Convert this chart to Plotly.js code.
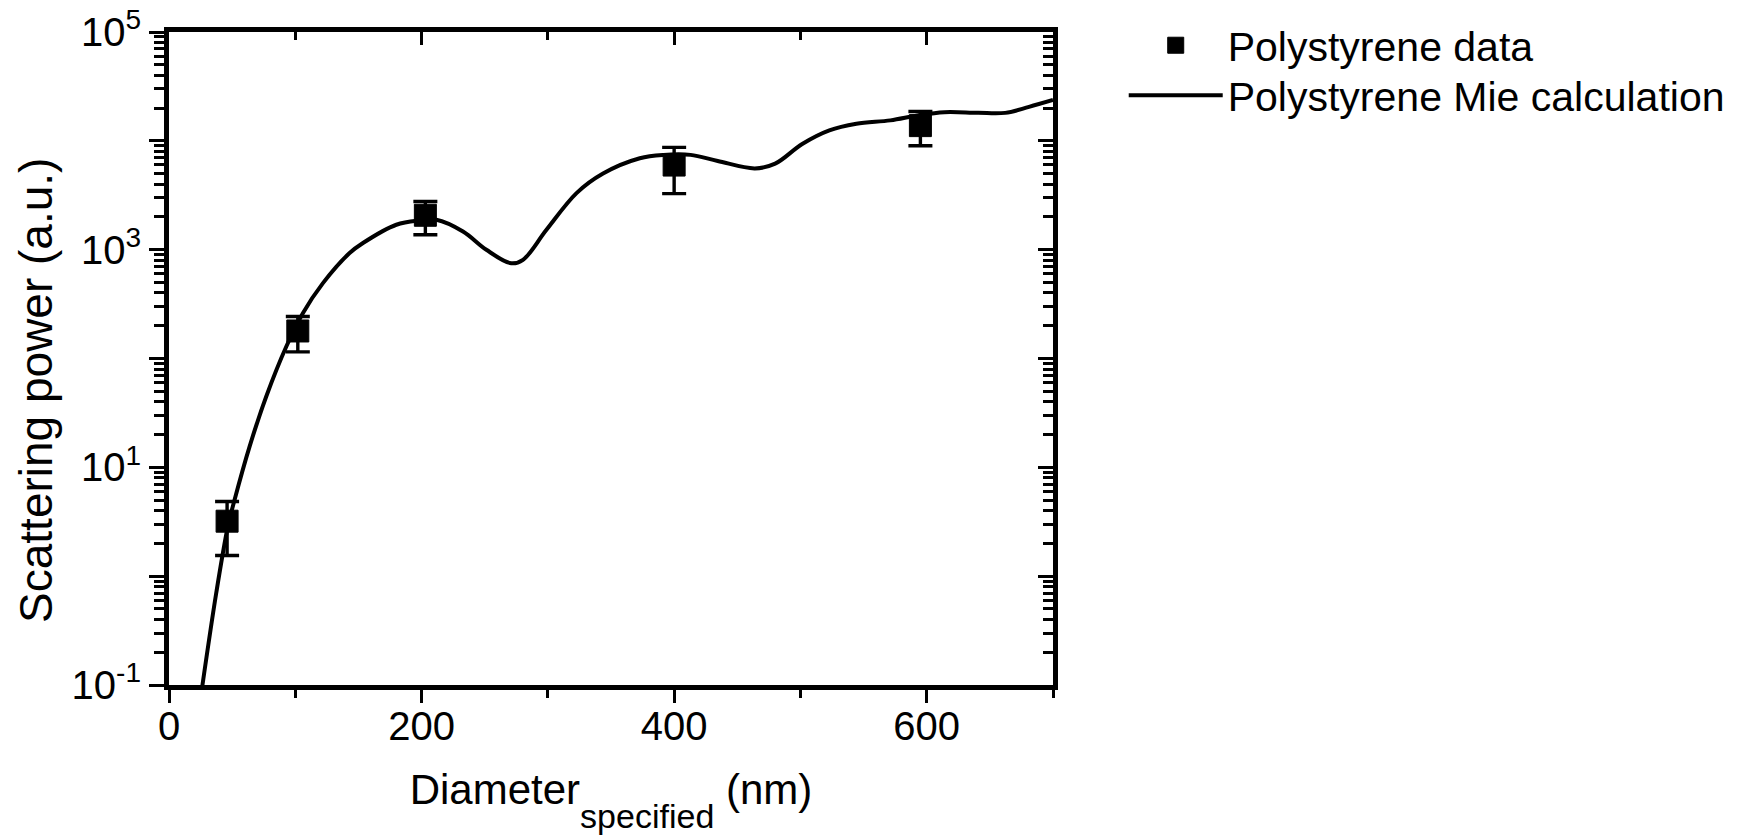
<!DOCTYPE html>
<html><head><meta charset="utf-8">
<script src="https://cdn.plot.ly/plotly-3.0.1.min.js"></script>
<style>html,body{margin:0;padding:0;background:#fff}#chart{width:1749px;height:835px}</style>
</head><body><div id="chart"></div>
<script>
// Measured data points (Polystyrene)
const diameterNm = [46, 102, 203, 400, 595];
const scatteringPower = [3.2, 179, 2070, 5990, 13800];
const powerError = [1.65, 64, 700, 2720, 4800];

// Mie calculation curve
const mieDiameter = [25.5, 37.4, 46.6, 51.9, 63.8, 77.0, 92.9, 106.0, 121.9, 143.0, 153.6, 180.0, 198.5, 211.7, 232.8, 251.3, 271.0, 280.3, 298.9, 322.7, 343.7, 372.8, 391.6, 413.0, 434.5, 463.9, 480.0, 501.4, 522.9, 544.3, 571.2, 592.6, 614.0, 640.8, 662.2, 681.0, 700.0];
const mieValue = [0.083, 0.70, 2.86, 5.02, 15.5, 44.8, 129, 261, 493, 931, 1151, 1694, 1854, 1884, 1469, 998, 750, 807, 1524, 3311, 5010, 6920, 7430, 7430, 6530, 5580, 6170, 9350, 12470, 14350, 15420, 17100, 18320, 18070, 18070, 20510, 23710];

// Axis ticks and texts
const xMajorTicks = [0, 200, 400, 600];
const xTickLabels = ['0', '200', '400', '600'];
const xMinorTicks = [100, 300, 500, 700];
const yMajorTicks = [0.1, 1, 10, 100, 1000, 10000, 100000];
const yTickLabels = ['10<sup>-1</sup>', '', '10<sup>1</sup>', '', '10<sup>3</sup>', '', '10<sup>5</sup>'];
const yMinorTicks = [];
for (let d = 0; d < yMajorTicks.length - 1; d++) {
  for (let k = 2; k <= 9; k++) yMinorTicks.push(yMajorTicks[d] * k);
}
const xTitle = 'Diameter<span style="font-size:34px;baseline-shift:-24px">specified</span> (nm)';
const yTitle = 'Scattering power (a.u.)';
const dataName = 'Polystyrene data';
const curveName = 'Polystyrene Mie calculation';

const FONT = '"Liberation Sans", Arial, sans-serif';
const BLACK = '#000000';

const traces = [
  {
    type: 'scatter', mode: 'markers', name: dataName, legend: 'legend',
    x: diameterNm, y: scatteringPower,
    marker: {symbol: 'square', size: 22, color: BLACK, line: {width: 1, color: BLACK}},
    error_y: {type: 'data', array: powerError, visible: true, color: BLACK, thickness: 3.4, width: 12}
  },
  {
    type: 'scatter', mode: 'lines', name: curveName, legend: 'legend2',
    x: mieDiameter, y: mieValue,
    line: {color: BLACK, width: 4, shape: 'spline', smoothing: 1.0}
  },
  {
    type: 'scatter', mode: 'lines', x: [], y: [], xaxis: 'x2', yaxis: 'y2',
    showlegend: false, hoverinfo: 'skip'
  }
];

const tickCommon = {tickcolor: BLACK, tickwidth: 3, showgrid: false, zeroline: false};
const legendCommon = {
  x: 1.08, xanchor: 'left', yanchor: 'top',
  font: {family: FONT, size: 41, color: BLACK},
  itemwidth: 94, bgcolor: 'rgba(0,0,0,0)', borderwidth: 0
};

const layout = {
  width: 1749, height: 835,
  margin: {l: 169, r: 696, t: 32, b: 150, pad: 0},
  paper_bgcolor: '#ffffff', plot_bgcolor: '#ffffff',
  font: {family: FONT, color: BLACK},
  showlegend: true,
  legend: Object.assign({}, legendCommon, {y: 1.0305}),
  legend2: Object.assign({}, legendCommon, {y: 0.9539}),
  xaxis: Object.assign({}, tickCommon, {
    range: [0, 700], showline: true, linewidth: 5, linecolor: BLACK, mirror: true,
    ticks: 'outside', ticklen: 13, ticklabelstandoff: -11,
    tickmode: 'array', tickvals: xMajorTicks, ticktext: xTickLabels,
    minor: {tickmode: 'array', tickvals: xMinorTicks, ticks: 'outside', ticklen: 8, tickwidth: 3, tickcolor: BLACK, showgrid: false},
    tickfont: {family: FONT, size: 40, color: BLACK},
    title: {text: xTitle, font: {family: FONT, size: 42, color: BLACK}, standoff: 35}
  }),
  yaxis: Object.assign({}, tickCommon, {
    type: 'log', range: [-1, 5], showline: true, linewidth: 5, linecolor: BLACK, mirror: true,
    ticks: 'outside', ticklen: 15,
    tickmode: 'array', tickvals: yMajorTicks, ticktext: yTickLabels,
    minor: {tickmode: 'array', tickvals: yMinorTicks, ticks: 'outside', ticklen: 10, tickwidth: 3, tickcolor: BLACK, showgrid: false},
    tickfont: {family: FONT, size: 40, color: BLACK}
  }),
  xaxis2: Object.assign({}, tickCommon, {
    overlaying: 'x', side: 'top', anchor: 'y2', range: [0, 700], showline: false,
    ticks: 'inside', ticklen: 13, showticklabels: false,
    tickmode: 'array', tickvals: xMajorTicks,
    minor: {tickmode: 'array', tickvals: xMinorTicks, ticks: 'inside', ticklen: 8, tickwidth: 3, tickcolor: BLACK, showgrid: false}
  }),
  yaxis2: Object.assign({}, tickCommon, {
    overlaying: 'y', side: 'right', anchor: 'x2', type: 'log', range: [-1, 5], showline: false,
    ticks: 'inside', ticklen: 15, showticklabels: false,
    tickmode: 'array', tickvals: yMajorTicks,
    minor: {tickmode: 'array', tickvals: yMinorTicks, ticks: 'inside', ticklen: 10, tickwidth: 3, tickcolor: BLACK, showgrid: false}
  }),
  annotations: [{
    text: yTitle, textangle: -90, xref: 'paper', yref: 'paper',
    x: -0.1505, y: 0.4518, xanchor: 'center', yanchor: 'middle', showarrow: false,
    font: {family: FONT, size: 46, color: BLACK}
  }]
};

Plotly.newPlot('chart', traces, layout, {staticPlot: true, displayModeBar: false});
</script></body></html>
